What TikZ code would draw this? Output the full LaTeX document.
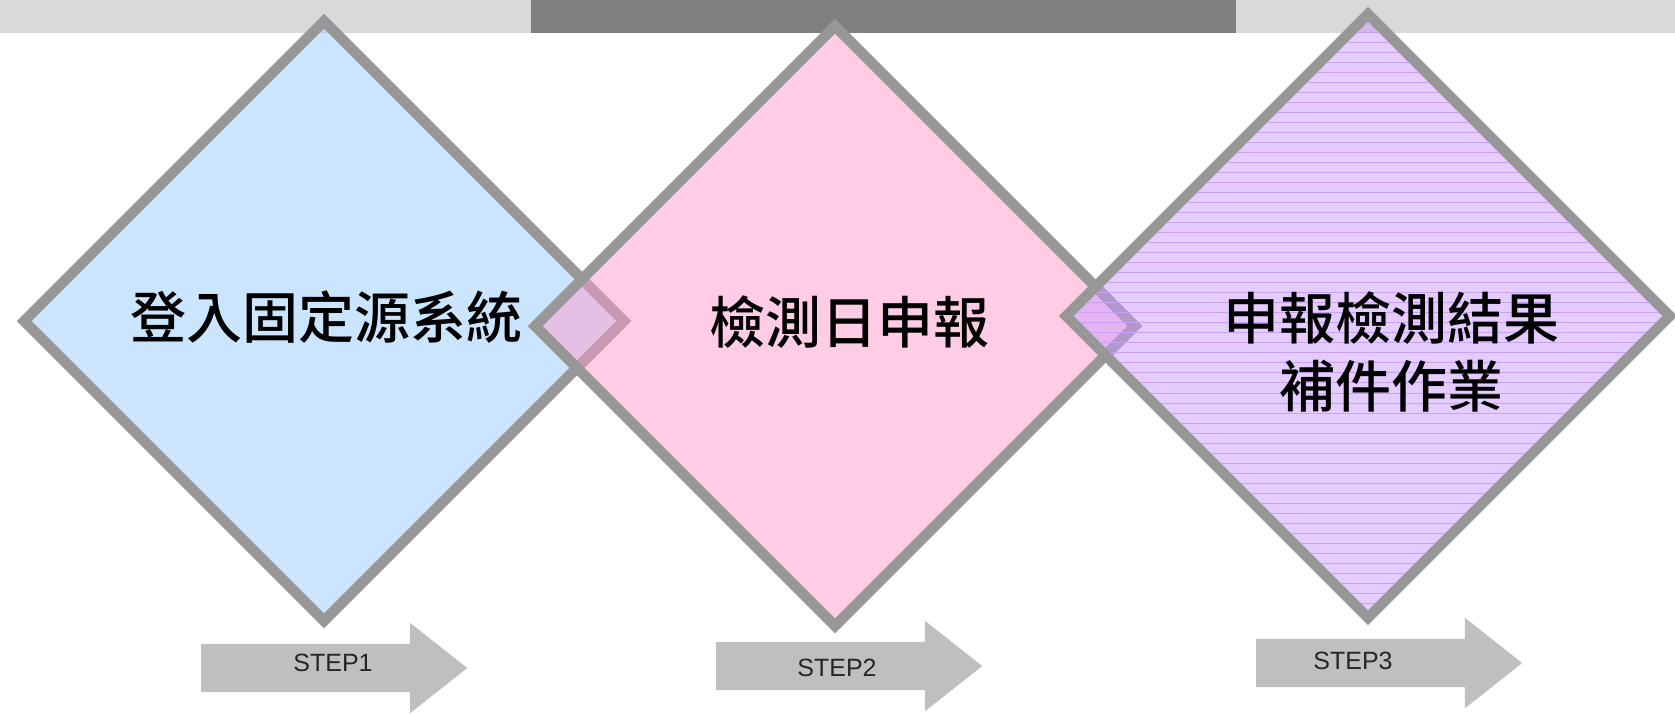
\documentclass[tikz,border=0pt]{standalone}
\usepackage{fontspec}
\setmainfont{Liberation Sans}
\newfontfamily\cjk{Noto Sans CJK TC Medium}
\usetikzlibrary{shapes.geometric,shapes.arrows,patterns.meta}
\definecolor{barlight}{HTML}{D9D9D9}
\definecolor{bardark}{HTML}{7F7F7F}
\definecolor{rim}{HTML}{979797}
\definecolor{skyfill}{HTML}{99CCFF}
\definecolor{rosefill}{HTML}{FF99CC}
\definecolor{lilacfill}{HTML}{CC99FF}
\definecolor{lilacline}{HTML}{C9A2F8}
\definecolor{arrowgray}{HTML}{BFBFBF}
\definecolor{stepink}{HTML}{262626}
\begin{document}
\begin{tikzpicture}[x=1pt,y=-1pt,
    box/.style={diamond,aspect=1,minimum size=604pt,inner sep=0pt,draw=rim,line width=10.5pt,fill opacity=0.5,draw opacity=1},
    boxtext/.style={font=\cjk\fontsize{56}{68}\selectfont,align=center,inner sep=0pt},
    steparrow/.style={single arrow,fill=arrowgray,minimum height=266pt,text height=18pt,text depth=0pt,inner ysep=15pt,inner xsep=0pt,single arrow head extend=21pt,single arrow tip angle=76.6,anchor=tail},
    steplabel/.style={font=\fontsize{25}{30}\selectfont,text=stepink,inner sep=0pt}]

    \useasboundingbox (0,0) rectangle (1675,713);

    % top bar
    \fill[barlight] (0,0) rectangle (531,33);
    \fill[bardark] (531,0) rectangle (1236,33);
    \fill[barlight] (1236,0) rectangle (1675,33);

    % diamonds
    \node[box,fill=skyfill] (d1) at (324,321) {};
    \node[box,fill=rosefill] (d2) at (835,326) {};
    \node[box,preaction={fill=lilacfill},pattern={Lines[distance=10pt,angle=0,line width=1pt]},pattern color=lilacline] (d3) at (1368,316) {};

    \node[boxtext] (t1) at ([xshift=2pt,yshift=4pt]d1.center) {登入固定源系統};
    \node[boxtext] (t2) at ([xshift=14pt,yshift=4pt]d2.center) {檢測日申報};
    \node[boxtext] (t3) at ([xshift=23pt,yshift=-36pt]d3.center) {申報檢測結果\\補件作業};

    % steps
    \node[steparrow] (a1) at (201,668) {};
    \node[steparrow] (a2) at (716,666) {};
    \node[steparrow] (a3) at (1256,663) {};
    \node[steplabel] (l1) at (333,663) {STEP1};
    \node[steplabel] (l2) at (837,668) {STEP2};
    \node[steplabel] (l3) at (1353,661) {STEP3};

\end{tikzpicture}
\end{document}
